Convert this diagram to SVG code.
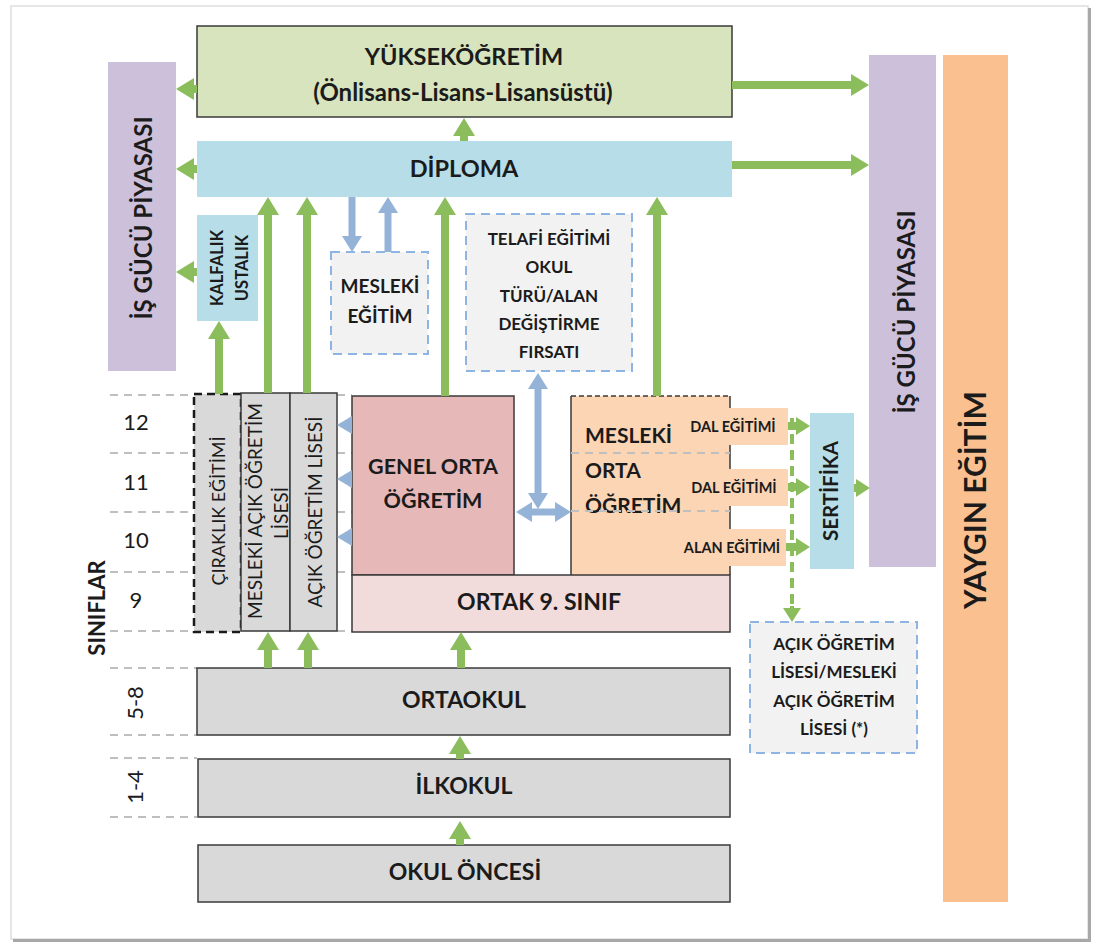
<svg xmlns="http://www.w3.org/2000/svg" width="1093" height="945" viewBox="0 0 1093 945">
<defs>
<style>
.t{font-family:Lato,"Open Sans","Liberation Sans",sans-serif;font-weight:bold;fill:#1b1b1b;text-anchor:middle}
.n{font-family:Lato,"Open Sans","Liberation Sans",sans-serif;font-weight:normal;fill:#1b1b1b;text-anchor:middle}
.s{text-anchor:start}
.g{stroke:#8cbd5c;stroke-width:8;fill:none}
.gd{stroke:#8cbd5c;stroke-width:4;fill:none;stroke-dasharray:10 6}
.b{stroke:#95b3d7;stroke-width:7;fill:none}
.dl{stroke:#bfbfbf;stroke-width:2;stroke-dasharray:8 6;fill:none}
.box{stroke:#3a3a3a;stroke-width:1.5}
.dash{fill:#f2f2f2;stroke:#8eb4e3;stroke-width:2;stroke-dasharray:9 6}
</style>
<marker id="ga" viewBox="0 0 18 22" refX="8" refY="11" markerWidth="18" markerHeight="22" markerUnits="userSpaceOnUse" orient="auto"><path d="M0,0 L18,11 L0,22 z" fill="#8cbd5c"/></marker>
<marker id="gs" viewBox="0 0 14 18" refX="6" refY="9" markerWidth="14" markerHeight="18" markerUnits="userSpaceOnUse" orient="auto"><path d="M0,0 L14,9 L0,18 z" fill="#8cbd5c"/></marker>
<marker id="ba" viewBox="0 0 16 20" refX="7" refY="10" markerWidth="16" markerHeight="20" markerUnits="userSpaceOnUse" orient="auto-start-reverse"><path d="M0,0 L16,10 L0,20 z" fill="#95b3d7"/></marker>
<marker id="bs" viewBox="0 0 15 18" refX="7" refY="9" markerWidth="15" markerHeight="18" markerUnits="userSpaceOnUse" orient="auto"><path d="M0,0 L15,9 L0,18 z" fill="#95b3d7"/></marker>
</defs>

<rect x="0" y="0" width="1093" height="945" fill="#ffffff"/>
<g id="frame">
<rect x="11" y="6" width="1077" height="933" fill="#ffffff" stroke="#dedede" stroke-width="1.5"/>
<line x1="1089.5" y1="8" x2="1089.5" y2="941" stroke="#a8a8a8" stroke-width="3"/>
<line x1="13" y1="940.5" x2="1091" y2="940.5" stroke="#a8a8a8" stroke-width="3"/>
</g>

<g id="gridlines">
<path class="dl" d="M110,395 H194 M110,453 H194 M110,512 H194 M110,572 H194 M110,631 H194 M110,668 H197 M110,735 H197 M110,758 H197 M110,817 H197"/>
<path class="dl" d="M337,395 H352 M337,453 H352 M337,512 H352 M337,572 H352 M337,631 H352"/>
</g>

<g id="labels">
<text class="n" x="136" y="430" font-size="22">12</text>
<text class="n" x="136" y="490" font-size="22">11</text>
<text class="n" x="136" y="548" font-size="22">10</text>
<text class="n" x="136" y="608" font-size="22">9</text>
<text class="n" transform="translate(143,703) rotate(-90)" font-size="22">5-8</text>
<text class="n" transform="translate(143,787) rotate(-90)" font-size="22">1-4</text>
<text class="t" transform="translate(105,608) rotate(-90)" font-size="22">SINIFLAR</text>
</g>

<g id="isgucu-left">
<rect x="108" y="62" width="68" height="309" fill="#ccc0da"/>
<text class="t" transform="translate(152,218) rotate(-90)" font-size="24">İŞ GÜCÜ PİYASASI</text>
</g>

<g id="yuksekogretim">
<rect class="box" x="197" y="26" width="535" height="91" fill="#d7e4bd" stroke-width="2"/>
<text class="t" x="464" y="65" font-size="23.5">YÜKSEKÖĞRETİM</text>
<text class="t" x="463" y="101" font-size="24">(Önlisans-Lisans-Lisansüstü)</text>
</g>

<g id="diploma">
<rect x="197" y="141" width="535" height="56" fill="#b7dee8"/>
<text class="t" x="464" y="177" font-size="23.5">DİPLOMA</text>
</g>

<g id="isgucu-right">
<rect x="869" y="55" width="67" height="512" fill="#ccc0da"/>
<text class="t" transform="translate(915,312) rotate(-90)" font-size="24">İŞ GÜCÜ PİYASASI</text>
</g>

<g id="yaygin">
<rect x="943" y="55" width="65" height="847" fill="#fac090"/>
<text class="t" transform="translate(986,500) rotate(-90)" font-size="30">YAYGIN EĞİTİM</text>
</g>

<g id="kalfalik">
<rect x="197" y="215" width="61" height="106" fill="#b7dee8"/>
<text class="t" transform="translate(223,268) rotate(-90)" font-size="16.5">KALFALIK</text>
<text class="t" transform="translate(248,268) rotate(-90)" font-size="16.5">USTALIK</text>
</g>

<g id="mesleki-egitim">
<rect class="dash" x="331" y="252" width="97" height="102"/>
<text class="t" x="380" y="293" font-size="19">MESLEKİ</text>
<text class="t" x="380" y="323" font-size="19">EĞİTİM</text>
</g>

<g id="telafi">
<rect class="dash" x="466" y="214" width="166" height="157"/>
<text class="t" x="549" y="245" font-size="17">TELAFİ EĞİTİMİ</text>
<text class="t" x="549" y="273" font-size="17">OKUL</text>
<text class="t" x="549" y="302" font-size="17">TÜRÜ/ALAN</text>
<text class="t" x="549" y="330" font-size="17">DEĞİŞTİRME</text>
<text class="t" x="549" y="358" font-size="17">FIRSATI</text>
</g>

<g id="ciraklik">
<rect x="194" y="394" width="47" height="238" fill="#d9d9d9" stroke="#1a1a1a" stroke-width="2.5" stroke-dasharray="8 5"/>
<text class="n" transform="translate(225,511) rotate(-90)" font-size="18">ÇIRAKLIK EĞİTİMİ</text>
</g>

<g id="mesleki-acik">
<rect class="box" x="241" y="393" width="49" height="238" fill="#d9d9d9"/>
<text class="n" transform="translate(262,511) rotate(-90)" font-size="19">MESLEKİ AÇIK ÖĞRETİM</text>
<text class="n" transform="translate(288,513) rotate(-90)" font-size="19">LİSESİ</text>
</g>

<g id="acik-ogretim">
<rect class="box" x="290" y="393" width="47" height="238" fill="#d9d9d9"/>
<text class="n" transform="translate(322,512) rotate(-90)" font-size="19">AÇIK ÖĞRETİM LİSESİ</text>
</g>

<g id="genel-orta">
<rect class="box" x="352" y="396" width="162" height="179" fill="#e6b9b8"/>
<text class="t" x="433" y="474" font-size="21.5">GENEL ORTA</text>
<text class="t" x="433" y="508" font-size="21.5">ÖĞRETİM</text>
</g>

<g id="mesleki-orta">
<rect x="571" y="396" width="159" height="179" fill="#fcd5b5"/>
<path d="M571,396 H730" stroke="#3a3a3a" stroke-width="1.5" stroke-dasharray="5 3"/>
<path d="M571,396 V575 M730,396 V575" stroke="#3a3a3a" stroke-width="1.5"/>
<text class="t s" x="585" y="443" font-size="21">MESLEKİ</text>
<text class="t s" x="585" y="478" font-size="21">ORTA</text>
<text class="t s" x="585" y="513" font-size="21">ÖĞRETİM</text>
<path class="dl" d="M571,453 H730 M571,511 H730"/>
</g>

<g id="dal1">
<rect x="685" y="408" width="103" height="37" fill="#fcd5b5"/>
<text class="t" x="733" y="432" font-size="14.5">DAL EĞİTİMİ</text>
</g>
<g id="dal2">
<rect x="685" y="469" width="103" height="37" fill="#fcd5b5"/>
<text class="t" x="734" y="493" font-size="14.5">DAL EĞİTİMİ</text>
</g>
<g id="alan">
<rect x="683" y="529" width="103" height="37" fill="#fcd5b5"/>
<text class="t" x="732" y="553" font-size="14.5">ALAN EĞİTİMİ</text>
</g>

<g id="sertifika">
<rect x="810" y="413" width="44" height="156" fill="#b7dee8"/>
<text class="t" transform="translate(838,491) rotate(-90)" font-size="20.5">SERTİFİKA</text>
</g>

<g id="acik-lise-not">
<rect class="dash" x="750" y="622" width="167" height="131"/>
<text class="t" x="834" y="650" font-size="17">AÇIK ÖĞRETİM</text>
<text class="t" x="834" y="678" font-size="17">LİSESİ/MESLEKİ</text>
<text class="t" x="834" y="707" font-size="17">AÇIK ÖĞRETİM</text>
<text class="t" x="834" y="735" font-size="17">LİSESİ (*)</text>
</g>

<g id="ortak9">
<rect class="box" x="352" y="575" width="378" height="57" fill="#f2dcdb"/>
<text class="t" x="539" y="610" font-size="23">ORTAK 9. SINIF</text>
</g>

<g id="ortaokul">
<rect class="box" x="197" y="668" width="533" height="67" fill="#d9d9d9"/>
<text class="t" x="464" y="708" font-size="23">ORTAOKUL</text>
</g>

<g id="ilkokul">
<rect class="box" x="198" y="759" width="532" height="58" fill="#d9d9d9"/>
<text class="t" x="464" y="794" font-size="23">İLKOKUL</text>
</g>

<g id="okul-oncesi">
<rect class="box" x="198" y="845" width="532" height="57" fill="#d9d9d9"/>
<text class="t" x="465" y="880" font-size="23">OKUL ÖNCESİ</text>
</g>

<g id="connectors">
<line class="g" x1="197" y1="89" x2="186" y2="89" marker-end="url(#ga)"/>
<line class="g" x1="197" y1="169" x2="186" y2="169" marker-end="url(#ga)"/>
<line class="g" x1="197" y1="272" x2="186" y2="272" marker-end="url(#ga)"/>
<line class="g" x1="732" y1="85" x2="859" y2="85" marker-end="url(#ga)"/>
<line class="g" x1="732" y1="165" x2="859" y2="165" marker-end="url(#ga)"/>
<line class="g" x1="464" y1="141" x2="464" y2="128" marker-end="url(#ga)"/>
<line class="g" x1="268" y1="393" x2="268" y2="207" marker-end="url(#ga)"/>
<line class="g" x1="307" y1="393" x2="307" y2="207" marker-end="url(#ga)"/>
<line class="g" x1="445" y1="396" x2="445" y2="207" marker-end="url(#ga)"/>
<line class="g" x1="657" y1="396" x2="657" y2="207" marker-end="url(#ga)"/>
<line class="g" x1="219" y1="394" x2="219" y2="331" marker-end="url(#ga)"/>
<line class="b" x1="352" y1="197" x2="352" y2="243" marker-end="url(#ba)"/>
<line class="b" x1="388" y1="252" x2="388" y2="206" marker-end="url(#ba)"/>
<line class="b" x1="538" y1="382" x2="538" y2="500" marker-start="url(#ba)" marker-end="url(#ba)"/>
<line class="b" x1="525" y1="512" x2="562" y2="512" marker-start="url(#ba)" marker-end="url(#ba)"/>
<line class="b" x1="352" y1="425" x2="345" y2="425" marker-end="url(#bs)"/>
<line class="b" x1="352" y1="479" x2="345" y2="479" marker-end="url(#bs)"/>
<line class="b" x1="352" y1="537" x2="345" y2="537" marker-end="url(#bs)"/>
<line class="g" x1="788" y1="426" x2="802" y2="426" marker-end="url(#gs)"/>
<line class="g" x1="788" y1="487" x2="802" y2="487" marker-end="url(#gs)"/>
<line class="g" x1="786" y1="547" x2="802" y2="547" marker-end="url(#gs)"/>
<line class="g" x1="854" y1="488" x2="862" y2="488" marker-end="url(#gs)"/>
<line class="gd" x1="792" y1="418" x2="792" y2="608"/>
<line x1="792" y1="606" x2="792" y2="614" stroke="#8cbd5c" stroke-width="4" marker-end="url(#gs)"/>
<line class="g" x1="268" y1="668" x2="268" y2="642" marker-end="url(#ga)"/>
<line class="g" x1="308" y1="668" x2="308" y2="642" marker-end="url(#ga)"/>
<line class="g" x1="461" y1="668" x2="461" y2="642" marker-end="url(#ga)"/>
<line class="g" x1="460" y1="759" x2="460" y2="746" marker-end="url(#ga)"/>
<line class="g" x1="460" y1="845" x2="460" y2="831" marker-end="url(#ga)"/>
</g>
</svg>
